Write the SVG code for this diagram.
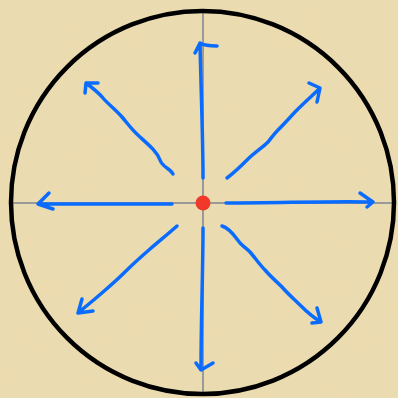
<svg xmlns="http://www.w3.org/2000/svg" width="398" height="398" viewBox="0 0 398 398">
<defs>
<filter id="tex" x="0" y="0" width="100%" height="100%">
<feTurbulence type="fractalNoise" baseFrequency="0.04" numOctaves="3" seed="3" result="n"/>
<feColorMatrix in="n" type="matrix" values="0 0 0 0 0.82  0 0 0 0 0.72  0 0 0 0 0.45  0 0 0 0.35 0"/>
</filter>
</defs>
<style>
.arr{fill:none;stroke:#0a6cff;stroke-width:3.5;stroke-linecap:round;stroke-linejoin:round}
.axis{stroke:#9a9a9a;stroke-width:2}
</style>
<rect width="398" height="398" fill="#ebdbaf"/>
<rect width="398" height="398" filter="url(#tex)"/>
<g id="axes">
<line class="axis" x1="10" y1="203" x2="395" y2="203"/>
<line class="axis" x1="203" y1="11" x2="203" y2="395"/>
</g>
<circle id="boundary" cx="202.5" cy="202.5" r="191.5" fill="none" stroke="#000" stroke-width="4.5"/>
<g id="arrows">
<path class="arr" d="M203,178 C203,140 201,90 200,43 M195,53 L200,43 Q205,46 217,46"/>
<path class="arr" d="M203,228 C203,270 201,320 201,370 M196,363 L201,370 L213,363"/>
<path class="arr" d="M172,204 L38,204 M49,193 L38,204 L53,209"/>
<path class="arr" d="M226,203 C280,203 330,201 373,202 M360,193 L373,202 L367,207"/>
<path class="arr" d="M173,174 C170,168 163,168 160,160 C157,152 150,146 140,137 C132,130 128,124 122,117 C116,110 108,104 103,98 C98,92 90,86 86,83 M85,93 L86,83 L98,83"/>
<path class="arr" d="M227,178 C235,172 242,165 247,160 C255,152 262,148 268,142 C272,137 274,134 278,130 C286,122 292,115 297,110 C305,102 313,95 320,88 M309,83 L320,88 L317,102"/>
<path class="arr" d="M177,226 C168,234 158,242 150,249 C142,256 134,263 127,270 C118,279 110,286 103,292 C94,300 85,307 78,313 M82,299 L78,313 L93,311"/>
<path class="arr" d="M222,226 C230,228 236,238 240,243 C244,247 247,249 250,252 C256,259 260,265 265,270 C271,277 276,281 282,287 C288,294 294,299 300,305 C307,312 314,318 321,322 M317,308 L321,322 L312,323"/>
</g>
<circle id="origin" cx="203" cy="203" r="7.5" fill="#f0392b"/>
</svg>
